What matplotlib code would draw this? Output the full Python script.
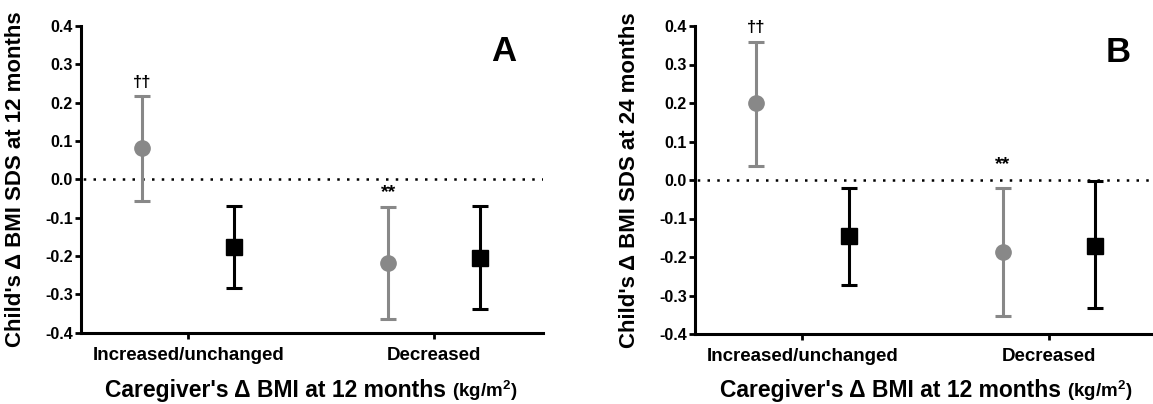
import numpy as np
import matplotlib.pyplot as plt
from matplotlib.transforms import blended_transform_factory

plt.rcParams['font.family'] = ['Liberation Sans', 'DejaVu Sans']
plt.rcParams['font.weight'] = 'bold'
plt.rcParams['mathtext.fontset'] = 'custom'
plt.rcParams['mathtext.rm'] = 'Liberation Sans:bold'
plt.rcParams['mathtext.bf'] = 'Liberation Sans:bold'

categories = ['Increased/unchanged', 'Decreased']

# panel A - child's change at 12 months
a_gray_mean = [0.081, -0.217]
a_gray_low = [-0.057, -0.364]
a_gray_high = [0.218, -0.071]
a_black_mean = [-0.176, -0.204]
a_black_low = [-0.283, -0.338]
a_black_high = [-0.069, -0.069]
a_marks = ['\u2020\u2020', '**']
a_mark_y = [0.233, -0.056]

# panel B - child's change at 24 months
b_gray_mean = [0.199, -0.188]
b_gray_low = [0.037, -0.354]
b_gray_high = [0.358, -0.021]
b_black_mean = [-0.146, -0.171]
b_black_low = [-0.272, -0.333]
b_black_high = [-0.021, -0.003]
b_marks = ['\u2020\u2020', '**']
b_mark_y = [0.376, 0.019]

yticks = np.round(np.linspace(-0.4, 0.4, 9), 1) + 0.0

gray = '#888888'
off = 0.187

fig = plt.figure(figsize=(11.53, 4.04), dpi=100)
axA = fig.add_axes([81 / 1153, 1 - 332.7 / 404, 462 / 1153, 306.8 / 404])
axB = fig.add_axes([695 / 1153, 1 - 334 / 404, 463 / 1153, 308 / 404])
renderer = fig.canvas.get_renderer()


def panel(ax, letter, months, gm, gl, gh, bm, bl, bh, marks, mark_y):
    x = np.arange(len(categories))
    gm, gl, gh = np.array(gm), np.array(gl), np.array(gh)
    bm, bl, bh = np.array(bm), np.array(bl), np.array(bh)

    ax.axhline(0, color='black', lw=1.8, linestyle=(3, (1, 2.9)), zorder=1)

    ax.errorbar(x - off, gm, yerr=[gm - gl, gh - gm], fmt='o', color=gray,
                ms=11, elinewidth=2.2, capsize=5.5, capthick=2.2, zorder=3)
    ax.errorbar(x + off, bm, yerr=[bm - bl, bh - bm], fmt='s', color='black',
                ms=11, elinewidth=2.2, capsize=5.5, capthick=2.2, zorder=3)

    for i, m in enumerate(marks):
        ax.text(x[i] - off, mark_y[i], m, ha='center', va='bottom',
                fontsize=14 if m == '**' else 12, fontweight='bold')

    ax.set_xlim(-0.436, 1.442)
    ax.set_ylim(-0.4, 0.4)
    ax.set_yticks(yticks)
    ax.set_yticklabels(['%.1f' % v for v in yticks])
    ax.set_xticks(x)
    ax.set_xticklabels(categories)

    for s in ['top', 'right']:
        ax.spines[s].set_visible(False)
    for s in ['left', 'bottom']:
        ax.spines[s].set_linewidth(2.2)

    ax.tick_params(axis='y', length=4.5, width=2, pad=1.5, labelsize=11.5)
    ax.tick_params(axis='x', length=4, width=2, pad=6, labelsize=13.5)

    ax.set_ylabel("Child's \u0394 BMI SDS at %d months" % months, fontsize=16,
                  fontweight='bold')
    ax.yaxis.set_label_coords(-0.118, 0.5)

    # x label in two parts: main text and smaller units on the same baseline
    base_y = 1 - 397 / 404
    tr = blended_transform_factory(ax.transAxes, fig.transFigure)
    main = ax.text(0.79, base_y, "Caregiver's \u0394 BMI at 12 months",
                   transform=tr, ha='right', va='baseline', fontsize=16.5,
                   fontweight='bold')
    bb = main.get_window_extent(renderer)
    fig.text((bb.x1 + 6) / fig.bbox.width, base_y, '(kg/m$^2$)',
             ha='left', va='baseline', fontsize=13.5, fontweight='bold')

    ax.text(0.915, 0.915, letter, transform=ax.transAxes, ha='center',
            va='center', fontsize=25, fontweight='bold')


panel(axA, 'A', 12, a_gray_mean, a_gray_low, a_gray_high,
      a_black_mean, a_black_low, a_black_high, a_marks, a_mark_y)
panel(axB, 'B', 24, b_gray_mean, b_gray_low, b_gray_high,
      b_black_mean, b_black_low, b_black_high, b_marks, b_mark_y)

fig.savefig('out.png', dpi=100)
